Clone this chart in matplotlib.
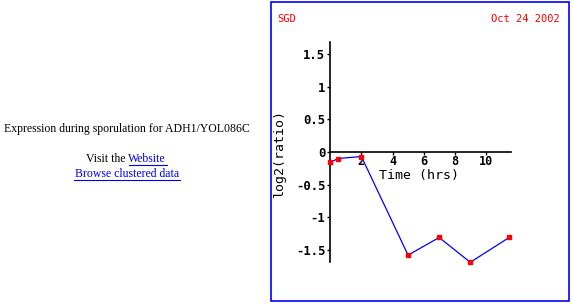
import matplotlib
matplotlib.use("Agg")
import matplotlib.pyplot as plt
from matplotlib.patches import Rectangle

# Data
hours = [0, 0.5, 2, 5, 7, 9, 11.5]
log2_ratio = [-0.16, -0.10, -0.07, -1.58, -1.31, -1.69, -1.31]
xticks = [2, 4, 6, 8, 10]
yticks = [-1.5, -1, -0.5, 0, 0.5, 1, 1.5]
ytick_labels = ["-1.5", "-1", "-0.5", "0", "0.5", "1", "1.5"]

W, H = 572, 304
fig = plt.figure(figsize=(W / 100, H / 100), dpi=100)
fig.patch.set_facecolor("white")

def px(x0, y0, x1, y1):
    # pixel box (top-left origin) -> figure fraction
    return [x0 / W, 1 - y1 / H, (x1 - x0) / W, (y1 - y0) / H]

# blue frame around plot panel
fig.patches.append(Rectangle((271 / W, 1 - 301 / H), 298 / W, 299 / H,
                             transform=fig.transFigure, fill=False,
                             edgecolor="#0000ff", linewidth=1.2))

mono = "DejaVu Sans Mono"
fig.text(277 / W, 1 - 19 / H, "SGD", color="red", family=mono, fontsize=7.5, va="center")
fig.text(560 / W, 1 - 19 / H, "Oct 24 2002", color="red", family=mono, fontsize=7.5,
         va="center", ha="right")

# left-hand page text
serif = "Liberation Serif"
fs = 8.5
fig.text(127 / W, 1 - 129 / H, "Expression during sporulation for ADH1/YOL086C",
         family=serif, fontsize=fs, ha="center", va="center")
fig.text(128 / W, 1 - 159 / H, "Visit the ", family=serif, fontsize=fs, ha="right", va="center")
fig.text(128 / W, 1 - 159 / H, "Website", family=serif, fontsize=fs, ha="left", va="center",
         color="#0000ee")
fig.text(127 / W, 1 - 174 / H, "Browse clustered data", family=serif, fontsize=fs,
         ha="center", va="center", color="#0000ee")
fig.add_artist(plt.Line2D([129 / W, 167 / W], [1 - 165 / H] * 2, color="#0000ee", lw=0.8))
fig.add_artist(plt.Line2D([74 / W, 180 / W], [1 - 180 / H] * 2, color="#0000ee", lw=0.8))

ax = fig.add_axes(px(330.3, 42.3, 510.7, 262.3))
ax.set_xlim(0, 11.6)
ax.set_ylim(-1.69, 1.68)
ax.plot(hours, log2_ratio, color="#0000ff", lw=0.9, clip_on=False, zorder=2)
ax.plot(hours, log2_ratio, ls="none", marker="s", ms=3.3, mfc="red", mec="red",
        clip_on=False, zorder=3)

for s in ["top", "right"]:
    ax.spines[s].set_visible(False)
ax.spines["bottom"].set_position(("data", 0))
for s in ["left", "bottom"]:
    ax.spines[s].set_linewidth(1.2)

ax.set_yticks(yticks)
ax.set_yticklabels(ytick_labels)
ax.set_xticks(xticks)
ax.tick_params(axis="both", length=2.5, width=1, pad=1, labelsize=8.8)
ax.tick_params(axis="x", pad=0, length=2, labelsize=8.5)
for lab in ax.get_xticklabels() + ax.get_yticklabels():
    lab.set_family(mono)
    lab.set_fontweight("bold")

fig.text(419 / W, 1 - 175 / H, "Time (hrs)", family=mono, fontsize=9.5, ha="center", va="center")
fig.text(279 / W, 1 - 153 / H, "log2(ratio)", family=mono, fontsize=9.5, ha="center",
         va="center", rotation=90)

fig.savefig("out.png", dpi=100)
